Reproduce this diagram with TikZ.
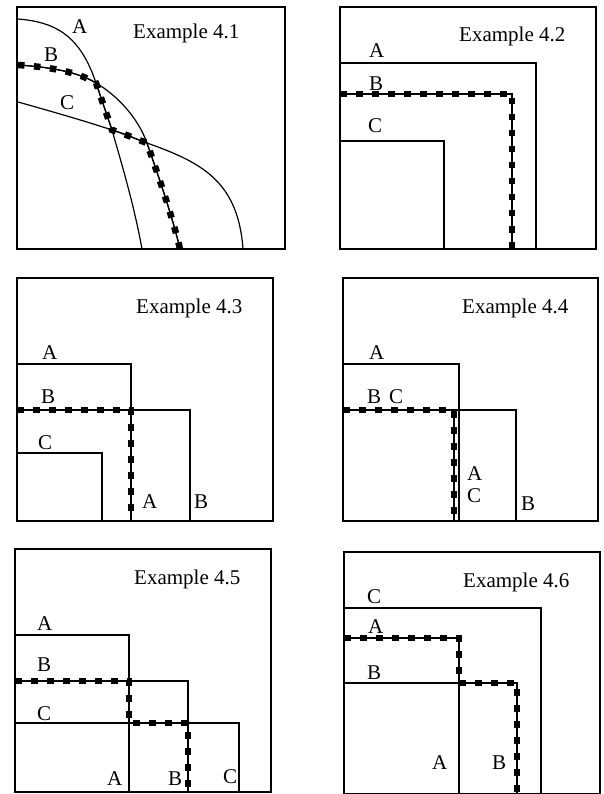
\documentclass[tikz,border=0pt]{standalone}
\usepackage{fontspec}
\setmainfont{Liberation Serif}
\begin{document}
\begin{tikzpicture}[x=1pt,y=-1pt,
  frame/.style={line width=1.4pt},
  bnd/.style={line width=1.2pt},
  dotline/.style={line width=1.2pt, postaction={draw, line width=6.5pt, dash pattern=on 6.5pt off 9.5pt}},
  lbl/.style={anchor=base west, inner sep=0pt, font=\fontsize{21}{25}\selectfont}]
\useasboundingbox (0,0) rectangle (604,794);
% ---------- Example 4.1
\draw[frame] (17,7) rectangle (285,249);
\draw[bnd] (18,19) .. controls (55,22) and (80,35) .. (96,83) -- (112,130) .. controls (122,165) and (134,205) .. (142,249);
\draw[bnd] (18,65) .. controls (50,67) and (78,72) .. (96,83) .. controls (118,96) and (138,118) .. (147,143) .. controls (158,175) and (172,215) .. (180,249);
\draw[bnd] (18,102) .. controls (50,111) and (85,121) .. (112,130) .. controls (125,134) and (136,139) .. (147,143) .. controls (200,162) and (238,180) .. (243,249);
\draw[dotline] (18,65) .. controls (50,67) and (78,72) .. (96,83) -- (112,130) .. controls (125,134) and (136,139) .. (147,143) .. controls (158,175) and (172,215) .. (180,249);
\node[lbl] (t1) at (133,39) {Example 4.1};
\node[lbl] (a1) at (72,34) {A};
\node[lbl] (b1) at (44,62) {B};
\node[lbl] (c1) at (60,110) {C};
% ---------- Example 4.2
\draw[frame] (340,7) rectangle (596,249);
\draw[bnd] (340,63) rectangle (536,249);
\draw[bnd] (340,141) rectangle (444,249);
\draw[bnd] (340,94) rectangle (512,249);
\draw[dotline] (340,94) -- (512,94) -- (512,249);
\node[lbl] (t2) at (459,42) {Example 4.2};
\node[lbl] (a2) at (369,58) {A};
\node[lbl] (b2) at (369,91) {B};
\node[lbl] (c2) at (368,133) {C};
% ---------- Example 4.3
\draw[frame] (17,278) rectangle (273,521);
\draw[bnd] (17,364) rectangle (131,521);
\draw[bnd] (17,410) rectangle (190,521);
\draw[bnd] (17,453) rectangle (102,521);
\draw[dotline] (17,410) -- (131,410) -- (131,521);
\node[lbl] (t3) at (136,313) {Example 4.3};
\node[lbl] (a3) at (42,359) {A};
\node[lbl] (b3) at (41,403) {B};
\node[lbl] (c3) at (38,449) {C};
\node[lbl] (a3b) at (142,508) {A};
\node[lbl] (b3b) at (194,508) {B};
% ---------- Example 4.4
\draw[frame] (343,278) rectangle (598,521);
\draw[bnd] (343,364) rectangle (459,521);
\draw[bnd] (343,410) rectangle (516,521);
\draw[bnd] (343,410) rectangle (454,521);
\draw[dotline] (343,410) -- (454,410) -- (454,521);
\node[lbl] (t4) at (462,313) {Example 4.4};
\node[lbl] (a4) at (369,359) {A};
\node[lbl] (b4) at (367,403) {B};
\node[lbl] (c4) at (389,403) {C};
\node[lbl] (a4b) at (467,480) {A};
\node[lbl] (c4b) at (467,502) {C};
\node[lbl] (b4b) at (521,510) {B};
% ---------- Example 4.5
\draw[frame] (15,549) rectangle (271,792);
\draw[bnd] (15,635) rectangle (129,792);
\draw[bnd] (15,681) -- (188,681) -- (188,792);
\draw[bnd] (15,723) rectangle (239,792);
\draw[dotline] (15,681) -- (129,681) -- (129,723) -- (188,723) -- (188,792);
\node[lbl] (t5) at (134,584) {Example 4.5};
\node[lbl] (a5) at (37,630) {A};
\node[lbl] (b5) at (37,671) {B};
\node[lbl] (c5) at (37,720) {C};
\node[lbl] (a5b) at (107,785) {A};
\node[lbl] (b5b) at (168,785) {B};
\node[lbl] (c5b) at (223,783) {C};
% ---------- Example 4.6
\draw[frame] (344,552) rectangle (600,794);
\draw[bnd] (344,608) rectangle (541,794);
\draw[bnd] (459,638) -- (459,794);
\draw[bnd] (344,683) -- (517,683) -- (517,794);
\draw[dotline] (344,638) -- (459,638) -- (459,683) -- (517,683) -- (517,794);
\node[lbl] (t6) at (463,587) {Example 4.6};
\node[lbl] (c6) at (367,603) {C};
\node[lbl] (a6) at (368,633) {A};
\node[lbl] (b6) at (367,679) {B};
\node[lbl] (a6b) at (432,769) {A};
\node[lbl] (b6b) at (492,769) {B};
\end{tikzpicture}
\end{document}
